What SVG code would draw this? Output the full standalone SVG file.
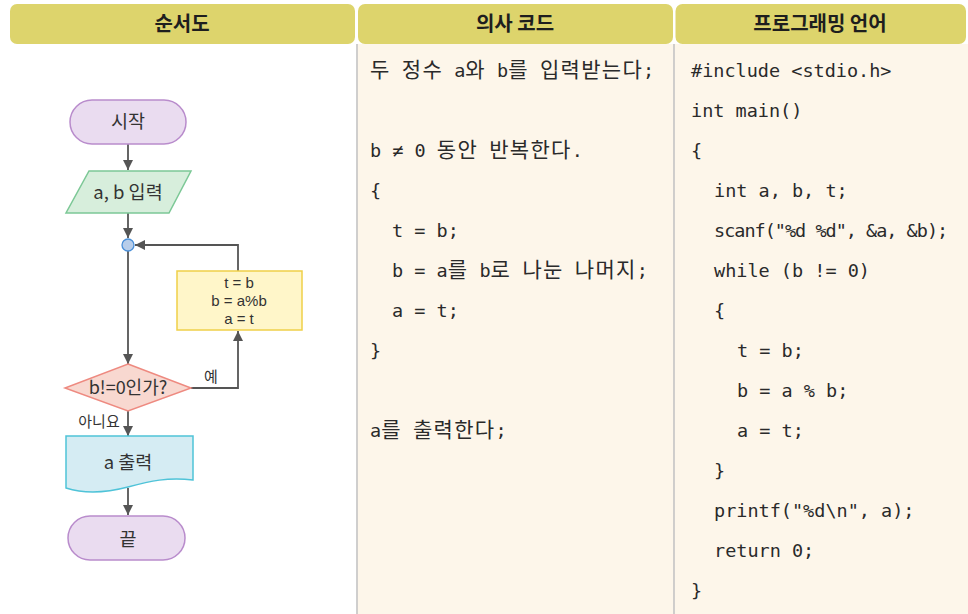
<svg xmlns="http://www.w3.org/2000/svg" width="968" height="614" viewBox="0 0 968 614">
<defs>
<style>
.hdr{fill:#ddd46c}
.htxt{font-family:"Noto Sans CJK KR","Noto Sans",sans-serif;font-weight:700;font-size:20px;fill:#1e1e1e;text-anchor:middle}
.code{font-family:"DejaVu Sans Mono","Noto Sans CJK KR",monospace;font-size:18.5px;fill:#2a2a2a;white-space:pre}
.k{font-family:"Noto Sans CJK KR",sans-serif;font-size:21px;letter-spacing:1.3px}
.ft{font-family:"Noto Sans CJK KR","Noto Sans",sans-serif;fill:#333;text-anchor:middle}
.pt{font-family:"Liberation Sans","Noto Sans",sans-serif;fill:#333;text-anchor:middle;font-size:15px}
.ln{fill:none;stroke:#555;stroke-width:1.8}
.sep{stroke:#c4c4c4;stroke-width:1.6}
</style>
<marker id="ah" viewBox="0 0 10 10" refX="10" refY="5" markerWidth="10" markerHeight="10" markerUnits="userSpaceOnUse" orient="auto">
<path d="M0,0 L10,5 L0,10 z" fill="#555"/>
</marker>
</defs>
<rect width="968" height="614" fill="#ffffff"/>
<rect x="357" y="44" width="611" height="570" fill="#fdf6ea"/>
<line class="sep" x1="357" y1="44" x2="357" y2="614"/>
<line class="sep" x1="674" y1="44" x2="674" y2="614"/>

<g id="headers">
<rect class="hdr" x="10" y="4" width="345" height="40" rx="7"/>
<rect class="hdr" x="358" y="4" width="315" height="40" rx="7"/>
<rect class="hdr" x="675.5" y="4" width="290.5" height="40" rx="7"/>
<text class="htxt" x="182" y="31">순서도</text>
<text class="htxt" x="515" y="31">의사 코드</text>
<text class="htxt" x="820" y="31">프로그래밍 언어</text>
</g>

<g id="connectors">
<line class="ln" x1="128" y1="144" x2="128" y2="170" marker-end="url(#ah)"/>
<line class="ln" x1="128" y1="213" x2="128" y2="238" marker-end="url(#ah)"/>
<line class="ln" x1="128" y1="251" x2="128" y2="364" marker-end="url(#ah)"/>
<line class="ln" x1="128" y1="411" x2="128" y2="436" marker-end="url(#ah)"/>
<line class="ln" x1="128" y1="488" x2="128" y2="515" marker-end="url(#ah)"/>
<polyline class="ln" points="191,388 238,388 238,331" marker-end="url(#ah)"/>
<polyline class="ln" points="238,271 238,245 135,245" marker-end="url(#ah)"/>
<text class="ft" x="211" y="382" font-size="15">예</text>
<text class="ft" x="99" y="427" font-size="15">아니요</text>
</g>

<g id="start">
<rect x="70" y="100" width="116" height="44" rx="22" fill="#eadcf0" stroke="#b98ccc" stroke-width="1.5"/>
<text class="ft" x="128" y="128" font-size="18.5">시작</text>
</g>
<g id="input">
<polygon points="89,171 191,171 169,213 66,213" fill="#d7eedc" stroke="#7cc896" stroke-width="1.5"/>
<text class="ft" x="128" y="199" font-size="18.5">a, b 입력</text>
</g>
<g id="junction">
<circle cx="128" cy="245" r="6" fill="#b7cdea" stroke="#4a8fd8" stroke-width="1.3"/>
</g>
<g id="process">
<rect x="177" y="271" width="125" height="59" fill="#fff6c9" stroke="#efd048" stroke-width="1.5"/>
<text class="pt" x="239" y="288">t = b</text>
<text class="pt" x="239" y="306">b = a%b</text>
<text class="pt" x="239" y="324">a = t</text>
</g>
<g id="decision">
<polygon points="128,364 191,388 128,411 65,388" fill="#f8d8d0" stroke="#ee8a80" stroke-width="1.5"/>
<text class="ft" x="128" y="394" font-size="18">b!=0인가?</text>
</g>
<g id="output">
<path d="M66,436 H193 V480 C168,477 150,481 128,487 C105,493 85,494 66,488 Z" fill="#d5ecf3" stroke="#4fc3d8" stroke-width="1.5"/>
<text class="ft" x="128" y="469" font-size="18.5">a 출력</text>
</g>
<g id="end">
<rect x="68" y="516" width="117" height="44" rx="22" fill="#eadcf0" stroke="#b98ccc" stroke-width="1.5"/>
<text class="ft" x="128" y="546" font-size="18.5">끝</text>
</g>

<g id="pseudocode">
<text class="code" x="370" y="77"><tspan class="k">두</tspan> <tspan class="k">정수</tspan> a<tspan class="k">와</tspan> b<tspan class="k">를</tspan> <tspan class="k">입력받는다</tspan>;</text>
<text class="code" x="370" y="157">b ≠ 0 <tspan class="k">동안</tspan> <tspan class="k">반복한다</tspan>.</text>
<text class="code" x="370" y="197">{</text>
<text class="code" x="392" y="237">t = b;</text>
<text class="code" x="392" y="277">b = a<tspan class="k">를</tspan> b<tspan class="k">로</tspan> <tspan class="k">나눈</tspan> <tspan class="k">나머지</tspan>;</text>
<text class="code" x="392" y="317">a = t;</text>
<text class="code" x="370" y="357">}</text>
<text class="code" x="370" y="437">a<tspan class="k">를</tspan> <tspan class="k">출력한다</tspan>;</text>
</g>

<g id="program">
<text class="code" x="691" y="77">#include &lt;stdio.h&gt;</text>
<text class="code" x="691" y="117">int main()</text>
<text class="code" x="691" y="157">{</text>
<text class="code" x="714" y="197">int a, b, t;</text>
<text class="code" x="714" y="237" style="letter-spacing:-1px">scanf("%d %d", &amp;a, &amp;b);</text>
<text class="code" x="714" y="277">while (b != 0)</text>
<text class="code" x="714" y="317">{</text>
<text class="code" x="737" y="357">t = b;</text>
<text class="code" x="737" y="397">b = a % b;</text>
<text class="code" x="737" y="437">a = t;</text>
<text class="code" x="714" y="477">}</text>
<text class="code" x="714" y="517">printf("%d\n", a);</text>
<text class="code" x="714" y="557">return 0;</text>
<text class="code" x="691" y="597">}</text>
</g>
</svg>
